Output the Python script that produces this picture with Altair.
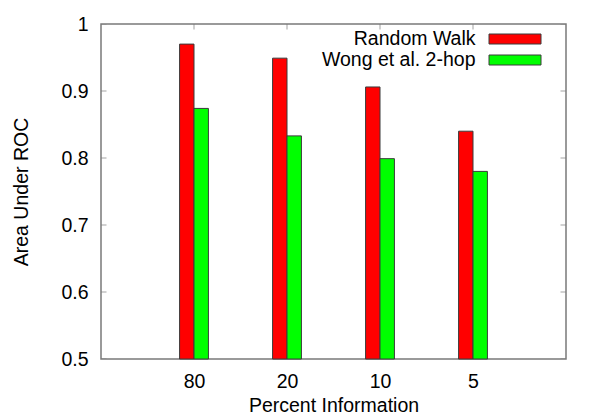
import altair as alt
import pandas as pd

categories = ["80", "20", "10", "5"]
random_walk = [0.970, 0.949, 0.906, 0.840]
wong_2hop = [0.874, 0.833, 0.799, 0.780]
series_names = ["Random Walk", "Wong et al. 2-hop"]
series_colors = ["#ff0000", "#00ff00"]
y_ticks = [0.5, 0.6, 0.7, 0.8, 0.9, 1.0]
x_positions = [0, 1, 2, 3]

rows = []
for i, c in enumerate(categories):
    rows.append({"idx": i, "cat": c, "series": series_names[0], "order": 0, "value": random_walk[i]})
    rows.append({"idx": i, "cat": c, "series": series_names[1], "order": 1, "value": wong_2hop[i]})
df = pd.DataFrame(rows)

W, H = 465, 335
BW = 0.155
FONT = "Liberation Sans"
FS = 19.5
FRAME = "#7a7a7a"
EDGE = "#3a3a3a"

xscale = alt.Scale(domain=[-1, 4], nice=False, zero=False)
yscale = alt.Scale(domain=[0.5, 1.0], nice=False, zero=False)
color_scale = alt.Scale(domain=series_names, range=series_colors)

label_expr = "[" + ",".join(f"'{c}'" for c in categories) + "][datum.value]"

x_axis = alt.Axis(
    values=x_positions, labelExpr=label_expr, grid=False, domain=False, ticks=False,
    labelFont=FONT, labelFontSize=FS, labelColor="black", labelBaseline="alphabetic",
    labelPadding=28, labelAlign="center",
    title="Percent Information", titleFont=FONT, titleFontSize=FS, titleFontWeight="normal",
    titleColor="black", titleX=W / 2, titleY=52, titleBaseline="alphabetic", titleAlign="center",
)
y_axis = alt.Axis(
    values=y_ticks, labelExpr="datum.value == 1 ? '1' : format(datum.value, '.1f')",
    grid=False, domain=False, ticks=False,
    labelFont=FONT, labelFontSize=FS, labelColor="black", labelBaseline="middle",
    labelPadding=13, labelAlign="right", labelFlush=False,
    title="Area Under ROC", titleFont=FONT, titleFontSize=FS, titleFontWeight="normal",
    titleColor="black", titleX=-74, titleY=H / 2, titleAngle=270,
    titleBaseline="alphabetic", titleAlign="center",
)

bars = alt.Chart(df).transform_calculate(
    x0=f"datum.idx + (datum.order - 1) * {BW}",
    x1=f"datum.idx + datum.order * {BW}",
).mark_bar(stroke=EDGE, strokeWidth=1).encode(
    x=alt.X("x0:Q", scale=xscale, axis=x_axis),
    x2="x1:Q",
    y=alt.Y("value:Q", scale=yscale, axis=y_axis),
    y2=alt.datum(0.5),
    color=alt.Color("series:N", scale=color_scale, legend=None),
)

ydf = pd.DataFrame({"value": y_ticks})
xdf = pd.DataFrame({"x0": x_positions})

tick_style = dict(size=11, thickness=1, color=FRAME, clip=True)
left_ticks = alt.Chart(ydf).mark_tick(orient="horizontal", **tick_style).encode(
    y=alt.Y("value:Q", scale=yscale, axis=y_axis), x=alt.value(0))
right_ticks = alt.Chart(ydf).mark_tick(orient="horizontal", **tick_style).encode(
    y=alt.Y("value:Q", scale=yscale, axis=y_axis), x=alt.value(W))
top_ticks = alt.Chart(xdf).mark_tick(orient="vertical", **tick_style).encode(
    x=alt.X("x0:Q", scale=xscale, axis=x_axis), y=alt.value(0))
bottom_ticks = alt.Chart(xdf).mark_tick(orient="vertical", **tick_style).encode(
    x=alt.X("x0:Q", scale=xscale, axis=x_axis), y=alt.value(H))

legend_layers = []
legend_rows_y = [15, 36]
for name, col, yc in zip(series_names, series_colors, legend_rows_y):
    d = pd.DataFrame({"t": [name]})
    legend_layers.append(
        alt.Chart(d).mark_text(align="right", baseline="middle", font=FONT, fontSize=FS, color="black")
        .encode(text="t:N", x=alt.value(374.5), y=alt.value(yc))
    )
    legend_layers.append(
        alt.Chart(d).mark_rect(color=col, stroke=EDGE, strokeWidth=1)
        .encode(x=alt.value(388), x2=alt.value(440), y=alt.value(yc - 5), y2=alt.value(yc + 5))
    )

chart = alt.layer(
    bottom_ticks, bars, left_ticks, right_ticks, top_ticks, *legend_layers
).properties(
    width=W, height=H,
    autosize=alt.AutoSizeParams(type="none"),
    padding={"left": 93, "top": 16, "right": 26, "bottom": 53},
).configure_view(stroke=FRAME, strokeWidth=1.5)

chart.save("out.html", embed_options={"renderer": "svg", "actions": False})
